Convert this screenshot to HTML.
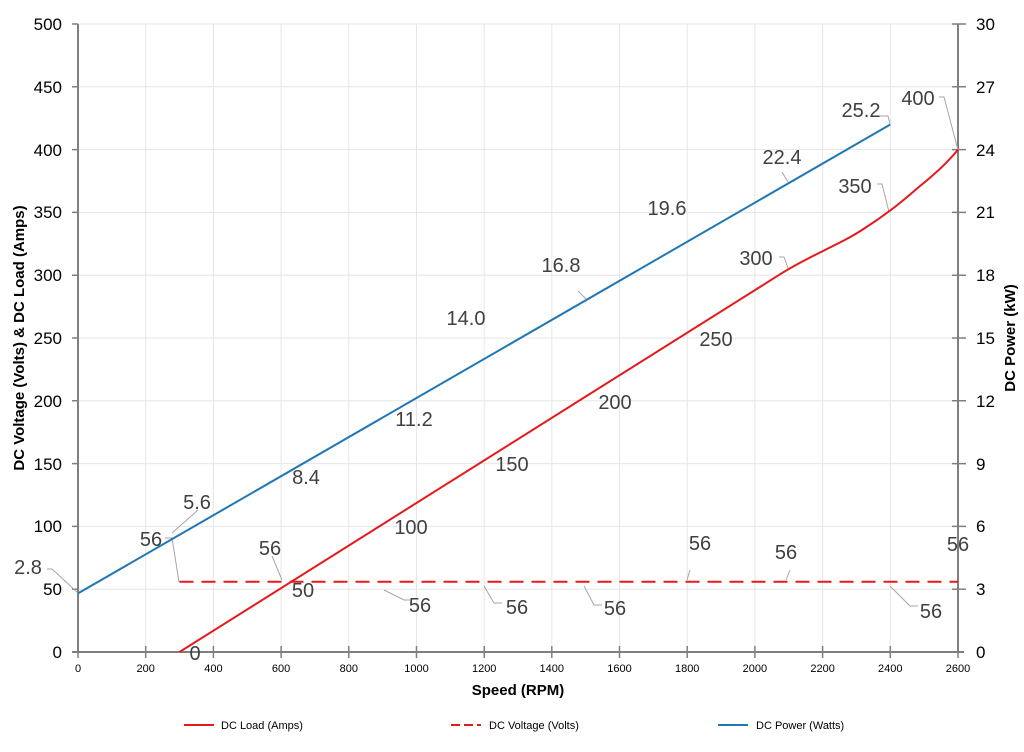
<!DOCTYPE html>
<html><head><style>body{margin:0;background:#fff}svg{display:block}text{font-family:"Liberation Sans",sans-serif}</style></head><body>
<svg width="1024" height="752" viewBox="0 0 1024 752">
<g stroke="#e6e6e6" stroke-width="1">
<line x1="145.7" y1="24" x2="145.7" y2="652"/><line x1="213.4" y1="24" x2="213.4" y2="652"/><line x1="281.1" y1="24" x2="281.1" y2="652"/><line x1="348.8" y1="24" x2="348.8" y2="652"/><line x1="416.5" y1="24" x2="416.5" y2="652"/><line x1="484.2" y1="24" x2="484.2" y2="652"/><line x1="551.8" y1="24" x2="551.8" y2="652"/><line x1="619.5" y1="24" x2="619.5" y2="652"/><line x1="687.2" y1="24" x2="687.2" y2="652"/><line x1="754.9" y1="24" x2="754.9" y2="652"/><line x1="822.6" y1="24" x2="822.6" y2="652"/><line x1="890.3" y1="24" x2="890.3" y2="652"/>
<line x1="78" y1="24" x2="958" y2="24"/><line x1="78" y1="86.8" x2="958" y2="86.8"/><line x1="78" y1="149.6" x2="958" y2="149.6"/><line x1="78" y1="212.4" x2="958" y2="212.4"/><line x1="78" y1="275.2" x2="958" y2="275.2"/><line x1="78" y1="338" x2="958" y2="338"/><line x1="78" y1="400.8" x2="958" y2="400.8"/><line x1="78" y1="463.6" x2="958" y2="463.6"/><line x1="78" y1="526.4" x2="958" y2="526.4"/><line x1="78" y1="589.2" x2="958" y2="589.2"/>
</g>
<g stroke="#7f7f7f" stroke-width="2">
<line x1="78" y1="24" x2="78" y2="652"/><line x1="958" y1="24" x2="958" y2="652"/><line x1="72" y1="652" x2="964" y2="652"/>
</g>
<g stroke="#7f7f7f" stroke-width="1.5">
<path d="M72 24H78M72 86.8H78M72 149.6H78M72 212.4H78M72 275.2H78M72 338H78M72 400.8H78M72 463.6H78M72 526.4H78M72 589.2H78"/>
<path d="M952 24H966M952 86.8H966M952 149.6H966M952 212.4H966M952 275.2H966M952 338H966M952 400.8H966M952 463.6H966M952 526.4H966M952 589.2H966"/>
<path d="M78 646V658M145.7 646V658M213.4 646V658M281.1 646V658M348.8 646V658M416.5 646V658M484.2 646V658M551.8 646V658M619.5 646V658M687.2 646V658M754.9 646V658M822.6 646V658M890.3 646V658M958 646V658"/>
</g>
<g font-size="17" fill="#000" text-anchor="end">
<text x="62" y="30">500</text><text x="62" y="93">450</text><text x="62" y="156">400</text><text x="62" y="218">350</text><text x="62" y="281">300</text><text x="62" y="344">250</text><text x="62" y="407">200</text><text x="62" y="470">150</text><text x="62" y="532">100</text><text x="62" y="595">50</text><text x="62" y="658">0</text>
</g>
<g font-size="17" fill="#000">
<text x="976" y="30">30</text><text x="976" y="93">27</text><text x="976" y="156">24</text><text x="976" y="218">21</text><text x="976" y="281">18</text><text x="976" y="344">15</text><text x="976" y="407">12</text><text x="976" y="470">9</text><text x="976" y="532">6</text><text x="976" y="595">3</text><text x="976" y="658">0</text>
</g>
<g font-size="11" fill="#000" text-anchor="middle">
<text x="78" y="672">0</text><text x="145.7" y="672">200</text><text x="213.4" y="672">400</text><text x="281.1" y="672">600</text><text x="348.8" y="672">800</text><text x="416.5" y="672">1000</text><text x="484.2" y="672">1200</text><text x="551.8" y="672">1400</text><text x="619.5" y="672">1600</text><text x="687.2" y="672">1800</text><text x="754.9" y="672">2000</text><text x="822.6" y="672">2200</text><text x="890.3" y="672">2400</text><text x="958" y="672">2600</text>
</g>
<text x="518" y="695" font-size="15" font-weight="bold" text-anchor="middle">Speed (RPM)</text>
<text transform="translate(24,338) rotate(-90)" font-size="15" font-weight="bold" text-anchor="middle">DC Voltage (Volts) &amp; DC Load (Amps)</text>
<text transform="translate(1015,338) rotate(-90)" font-size="15" font-weight="bold" text-anchor="middle">DC Power (kW)</text>
<!-- leaders -->
<g stroke="#a6a6a6" stroke-width="1" fill="none">
<path d="M47 569H52L78 593"/><path d="M198 510L172 533"/><path d="M165 538H172L179 582"/><path d="M272 556L282 580"/><path d="M384 590L404 600H410"/><path d="M484 586L494 603H502"/><path d="M584 586L594 605H602"/><path d="M690 570L687 580"/><path d="M790 570L786 580"/><path d="M890 586L910 606H918"/><path d="M578 291L586 299"/><path d="M782 172L788 182"/><path d="M878 116H888L890 124"/><path d="M939 97H944L958 150"/><path d="M877 184H882L889 212"/><path d="M779 257H784L788 268"/>
</g>
<polyline points="78,593.4 890.3,124.5" stroke="#1f77b4" stroke-width="2" fill="none"/>
<path d="M179.5 652 L778.6 275.2 C810 255 840 245 865 228 C890 212 905 199 920 186 C935 174 948 162 958 149.6" stroke="#e41a1c" stroke-width="2" fill="none"/>
<line x1="179.5" y1="581.7" x2="958" y2="581.7" stroke="#e41a1c" stroke-width="2" stroke-dasharray="14,8"/>
<g font-size="20" fill="#404040" text-anchor="middle">
<text x="195" y="660">0</text><text x="303" y="597">50</text><text x="411" y="534">100</text><text x="512" y="471">150</text><text x="615" y="409">200</text><text x="716" y="346">250</text><text x="756" y="265">300</text><text x="855" y="193">350</text><text x="918" y="105">400</text>
<text x="28" y="574">2.8</text><text x="197" y="509">5.6</text><text x="306" y="484">8.4</text><text x="414" y="426">11.2</text><text x="466" y="325">14.0</text><text x="561" y="272">16.8</text><text x="667" y="215">19.6</text><text x="782" y="164">22.4</text><text x="861" y="117">25.2</text>
<text x="151" y="546">56</text><text x="270" y="555">56</text><text x="420" y="612">56</text><text x="517" y="614">56</text><text x="615" y="615">56</text><text x="700" y="550">56</text><text x="786" y="559">56</text><text x="931" y="618">56</text><text x="958" y="551">56</text>
</g>
<g font-size="11" fill="#000">
<line x1="184" y1="725" x2="214" y2="725" stroke="#e41a1c" stroke-width="2"/><text x="221" y="729">DC Load (Amps)</text>
<line x1="451" y1="725" x2="481" y2="725" stroke="#e41a1c" stroke-width="2" stroke-dasharray="9,4"/><text x="489" y="729">DC Voltage (Volts)</text>
<line x1="718" y1="725" x2="748" y2="725" stroke="#1f77b4" stroke-width="2"/><text x="756" y="729">DC Power (Watts)</text>
</g>
</svg>
</body></html>
